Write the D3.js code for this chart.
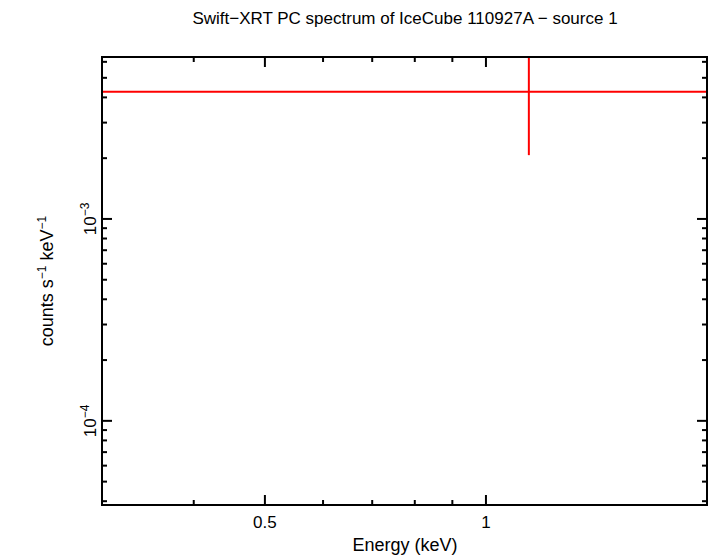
<!DOCTYPE html><html><head><meta charset="utf-8"><script src="https://cdn.jsdelivr.net/npm/d3@7"></script>
<style>body{margin:0;background:#fff}text{font-family:"Liberation Sans",Arial,sans-serif}</style></head><body><svg id="c" width="710" height="556"></svg><script>
const xDomain=[0.3,2.0], yDomain=[3.83e-5,6.34e-3];
const xMajor=[0.5,1], xMinor=[0.3,0.4,0.6,0.7,0.8,0.9,2];
const yMajor=[1e-4,1e-3], yMinor=[4e-5,5e-5,6e-5,7e-5,8e-5,9e-5,2e-4,3e-4,4e-4,5e-4,6e-4,7e-4,8e-4,9e-4,2e-3,3e-3,4e-3,5e-3,6e-3];
const binLo=[0.3], binHi=[2.0], binE=[1.144], rate=[4.26e-3], rateLo=[2.07e-3], rateHi=[1e-2];
const L=102,R=707,T=57,B=505;
const svg=d3.select("#c");
const x=d3.scaleLog().domain(xDomain).range([L,R]);
const y=d3.scaleLog().domain(yDomain).range([B,T]);
svg.append("defs").append("clipPath").attr("id","cl").append("rect").attr("x",L).attr("y",T).attr("width",R-L).attr("height",B-T);
const g=svg.append("g").attr("clip-path","url(#cl)");
rate.forEach((r,i)=>{
 g.append("line").attr("x1",x(binLo[i])).attr("x2",x(binHi[i])).attr("y1",y(r)).attr("y2",y(r)).attr("stroke","#f00").attr("stroke-width",2);
 g.append("line").attr("x1",x(binE[i])).attr("x2",x(binE[i])).attr("y1",y(rateHi[i])).attr("y2",y(rateLo[i])).attr("stroke","#f00").attr("stroke-width",2);
});
const tk=svg.append("g").attr("stroke","#000").attr("stroke-width",2);
const xt=(v,len)=>{tk.append("line").attr("x1",x(v)).attr("x2",x(v)).attr("y1",B).attr("y2",B-len);tk.append("line").attr("x1",x(v)).attr("x2",x(v)).attr("y1",T).attr("y2",T+len);};
const yt=(v,len)=>{tk.append("line").attr("y1",y(v)).attr("y2",y(v)).attr("x1",L).attr("x2",L+len);tk.append("line").attr("y1",y(v)).attr("y2",y(v)).attr("x1",R).attr("x2",R-len);};
xMajor.forEach(v=>xt(v,10));xMinor.forEach(v=>xt(v,5));
yMajor.forEach(v=>yt(v,10));yMinor.forEach(v=>yt(v,5));
svg.append("rect").attr("x",L).attr("y",T).attr("width",R-L).attr("height",B-T).attr("fill","none").attr("stroke","#000").attr("stroke-width",2);
xMajor.forEach(v=>svg.append("text").attr("x",x(v)).attr("y",528).attr("text-anchor","middle").attr("font-size",17).text(d3.format("")(v)));
yMajor.forEach(v=>{const e=Math.round(Math.log10(v));const t=svg.append("text").attr("transform",`translate(96,${y(v)}) rotate(-90)`).attr("text-anchor","middle").attr("font-size",17);
 t.append("tspan").text("10");t.append("tspan").attr("dy",-7).attr("font-size",12).text("−"+Math.abs(e));});
svg.append("text").attr("x",405).attr("y",551).attr("text-anchor","middle").attr("font-size",18).text("Energy (keV)");
const yl=svg.append("text").attr("transform","translate(53,281) rotate(-90)").attr("text-anchor","middle").attr("font-size",18);
yl.append("tspan").text("counts s");yl.append("tspan").attr("dy",-7).attr("font-size",12).text("−1");yl.append("tspan").attr("dy",7).text(" keV");yl.append("tspan").attr("dy",-7).attr("font-size",12).text("−1");
svg.append("text").attr("x",405).attr("y",24).attr("text-anchor","middle").attr("font-size",17).text("Swift−XRT PC spectrum of IceCube 110927A − source 1");
</script></body></html>
